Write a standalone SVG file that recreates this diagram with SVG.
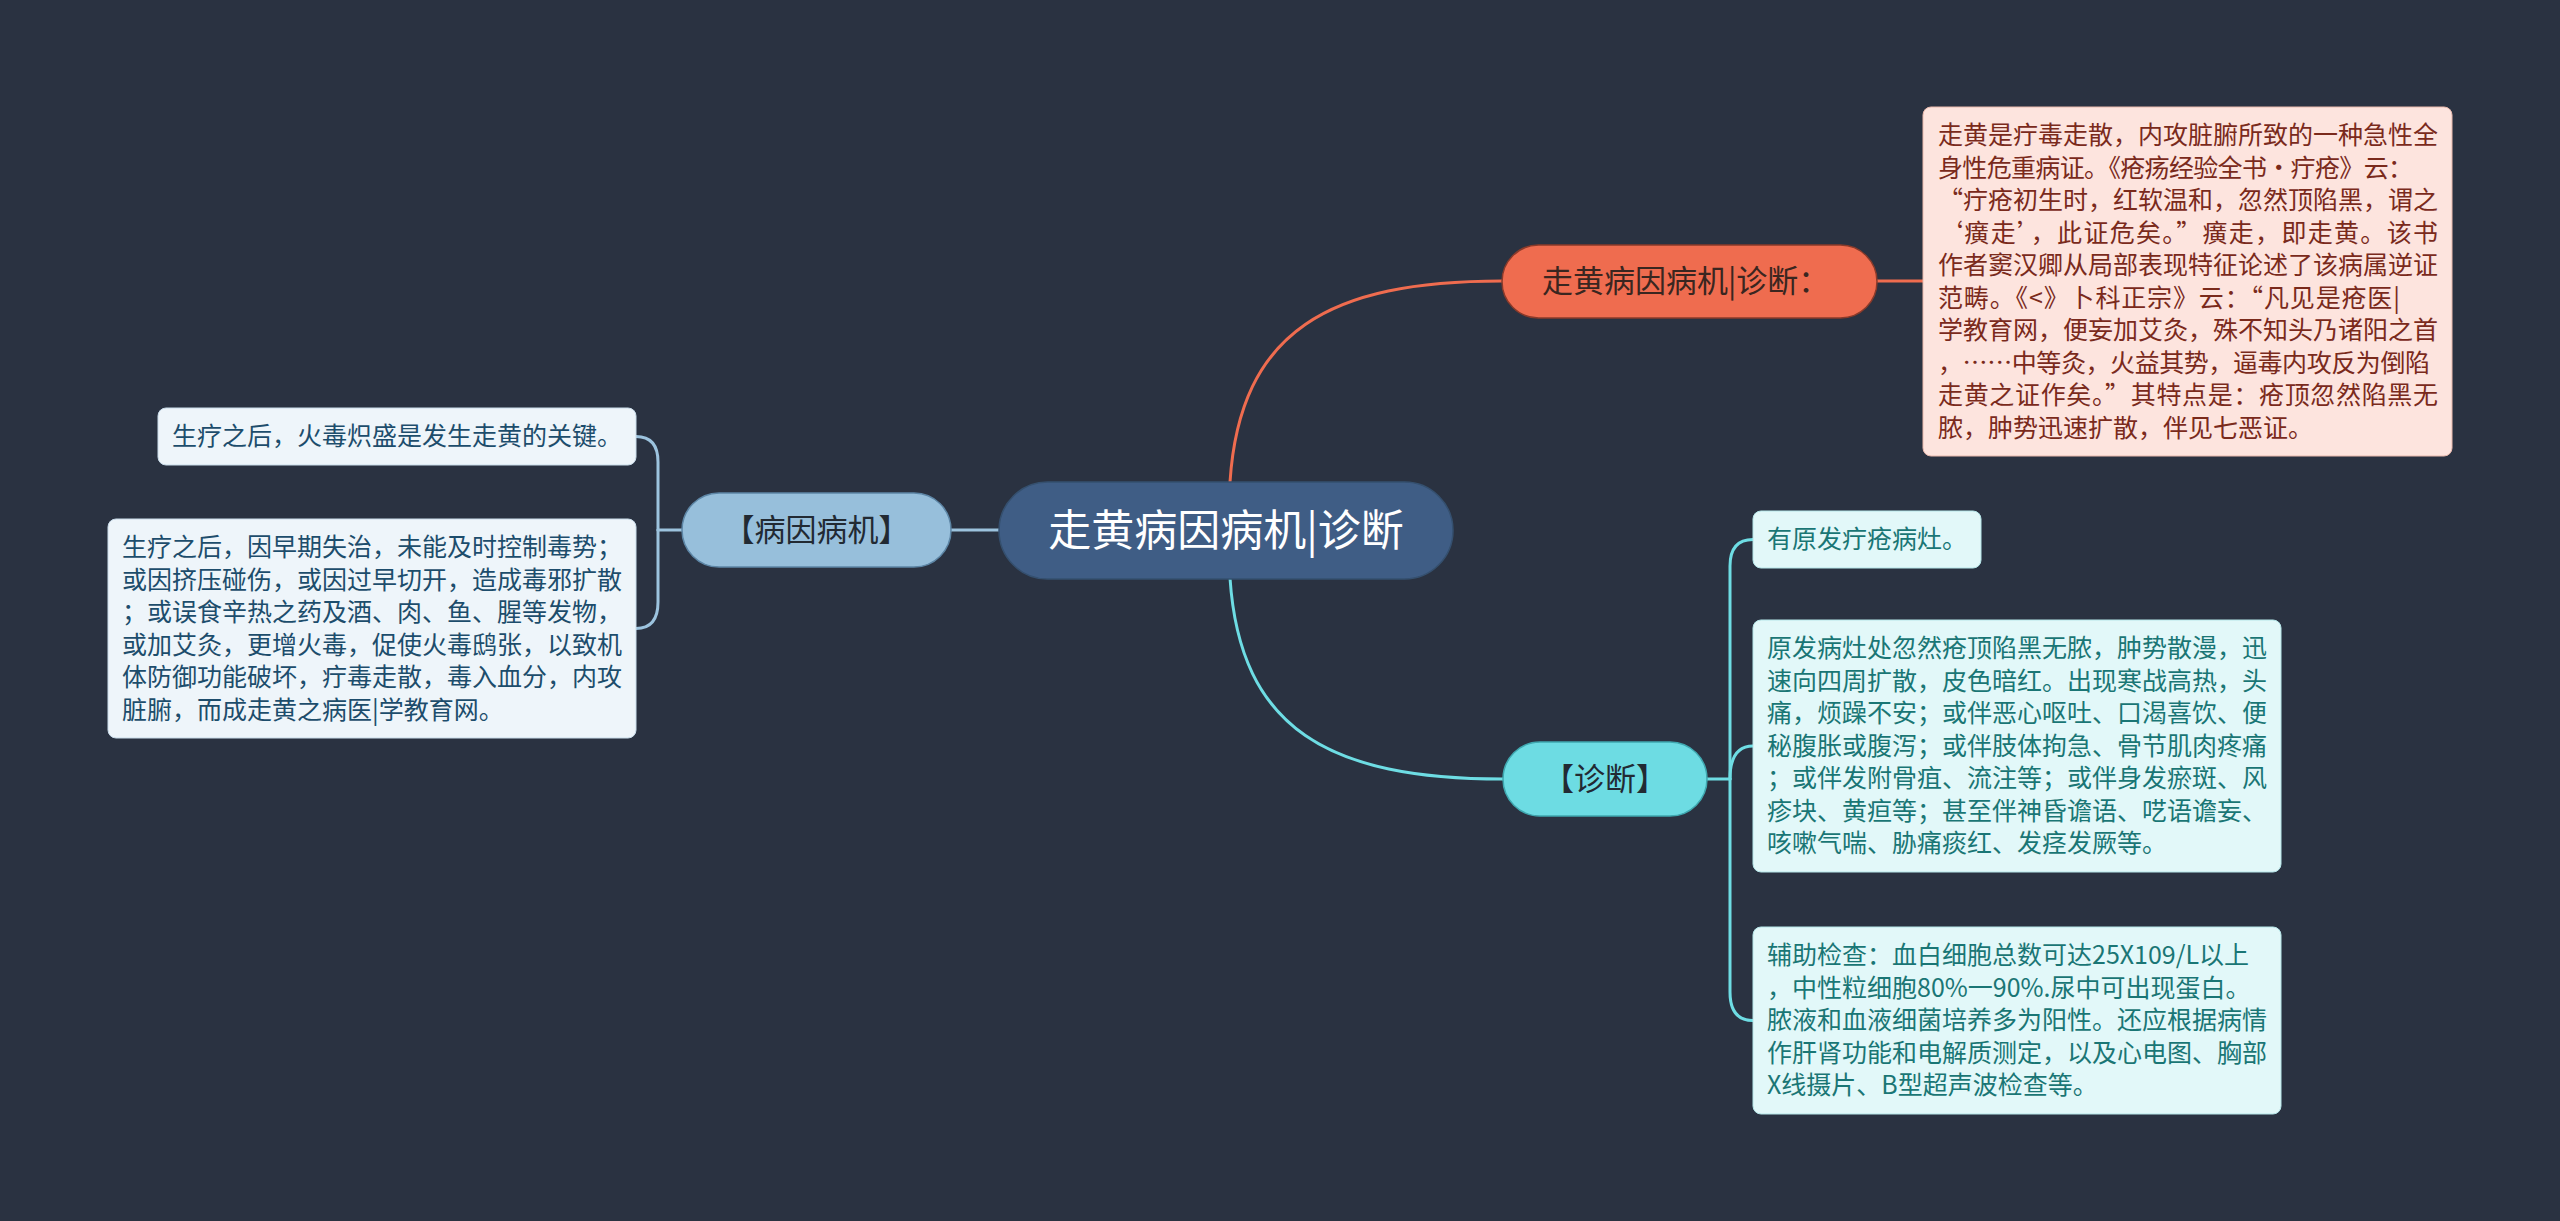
<svg xmlns="http://www.w3.org/2000/svg" width="2560" height="1221" viewBox="0 0 2560 1221">
<style>
.t{font-family:"Noto Sans CJK SC","Noto Sans",sans-serif}
.d{font-size:25px}
.br{font-size:31px}
.lk{fill:none;stroke-width:3;stroke-linecap:round}
.pinkt{fill:#7a2a1c}
.bluet{fill:#1d4d6c}
.tealt{fill:#1a7675}
</style>
<rect width="2560" height="1221" fill="#2a3241"/>
<g id="connectors">
<path class="lk" stroke="#ef6c4f" d="M1230,482 C1240,330 1330,281 1502,281"/>
<path class="lk" stroke="#ef6c4f" d="M1877,281 L1923,281"/>
<path class="lk" stroke="#9cc3de" d="M999,530 L951,530"/>
<path class="lk" stroke="#9cc3de" d="M682,530 L658,530"/>
<path class="lk" stroke="#9cc3de" d="M658,530 L658,462 Q658,436.5 636,436.5"/>
<path class="lk" stroke="#9cc3de" d="M658,530 L658,602 Q658,628.5 636,628.5"/>
<path class="lk" stroke="#6edde4" d="M1230,578 C1240,730 1330,779 1503,779"/>
<path class="lk" stroke="#6edde4" d="M1707,779 L1730,779"/>
<path class="lk" stroke="#6edde4" d="M1730,779 L1730,566 Q1730,539.5 1753,539.5"/>
<path class="lk" stroke="#6edde4" d="M1730,779 Q1730,746 1753,746"/>
<path class="lk" stroke="#6edde4" d="M1730,779 L1730,992 Q1730,1020.5 1753,1020.5"/>
</g>
<g id="root">
<rect x="999" y="482" width="454" height="97" rx="48.5" fill="#3f5d85" stroke="#35506f" stroke-width="1.5"/>
<text class="t" x="1226" y="546" font-size="43" fill="#ffffff" text-anchor="middle">走黄病因病机|诊断</text>
</g>
<g id="b1">
<rect x="1502" y="245" width="375" height="73" rx="36.5" fill="#ef6c4f" stroke="#8a3a2a" stroke-width="1.5"/>
<text class="t br" x="1542" y="292" fill="#3a2620">走黄病因病机|诊断：</text>
</g>
<g id="b1c1">
<rect x="1923" y="107" width="529" height="349" rx="8" fill="#fde4de" stroke="#e9b9ad" stroke-width="1"/>
<text class="t d pinkt">
<tspan x="1938" y="144" textLength="500" lengthAdjust="spacing">走黄是疔毒走散，内攻脏腑所致的一种急性全</tspan>
<tspan x="1938" y="176.5" textLength="475" lengthAdjust="spacing">身性危重病证。《疮疡经验全书·疔疮》云：</tspan>
<tspan x="1938" y="209" textLength="500" lengthAdjust="spacing">“疔疮初生时，红软温和，忽然顶陷黑，谓之</tspan>
<tspan x="1938" y="241.5" textLength="500" lengthAdjust="spacing">‘癀走’，此证危矣。”癀走，即走黄。该书</tspan>
<tspan x="1938" y="274" textLength="500" lengthAdjust="spacing">作者窦汉卿从局部表现特征论述了该病属逆证</tspan>
<tspan x="1938" y="306.5" textLength="462" lengthAdjust="spacing">范畴。《&lt;》卜科正宗》云：“凡见是疮医|</tspan>
<tspan x="1938" y="339" textLength="500" lengthAdjust="spacing">学教育网，便妄加艾灸，殊不知头乃诸阳之首</tspan>
<tspan x="1938" y="371.5" textLength="492" lengthAdjust="spacing">，……中等灸，火益其势，逼毒内攻反为倒陷</tspan>
<tspan x="1938" y="404" textLength="500" lengthAdjust="spacing">走黄之证作矣。”其特点是：疮顶忽然陷黑无</tspan>
<tspan x="1938" y="436.5">脓，肿势迅速扩散，伴见七恶证。</tspan>
</text>
</g>
<g id="b2">
<rect x="682" y="493" width="269" height="74" rx="37" fill="#97bfdb" stroke="#5d86a6" stroke-width="1.5"/>
<text class="t br" x="816.5" y="541" fill="#222a33" text-anchor="middle">【病因病机】</text>
</g>
<g id="b2c1">
<rect x="158" y="408" width="478" height="57" rx="8" fill="#eef5fa" stroke="#c9dcea" stroke-width="1"/>
<text class="t d bluet" x="172" y="445">生疗之后，火毒炽盛是发生走黄的关键。</text>
</g>
<g id="b2c2">
<rect x="108" y="519" width="528" height="219" rx="8" fill="#eef5fa" stroke="#c9dcea" stroke-width="1"/>
<text class="t d bluet">
<tspan x="122" y="556">生疗之后，因早期失治，未能及时控制毒势；</tspan>
<tspan x="122" y="588.5">或因挤压碰伤，或因过早切开，造成毒邪扩散</tspan>
<tspan x="122" y="621">；或误食辛热之药及酒、肉、鱼、腥等发物，</tspan>
<tspan x="122" y="653.5">或加艾灸，更增火毒，促使火毒鸱张，以致机</tspan>
<tspan x="122" y="686">体防御功能破坏，疔毒走散，毒入血分，内攻</tspan>
<tspan x="122" y="718.5">脏腑，而成走黄之病医|学教育网。</tspan>
</text>
</g>
<g id="b3">
<rect x="1503" y="742" width="204" height="74" rx="37" fill="#6ddce3" stroke="#3fa8b0" stroke-width="1.5"/>
<text class="t br" x="1605" y="790" fill="#222a33" text-anchor="middle">【诊断】</text>
</g>
<g id="b3c1">
<rect x="1753" y="511" width="228" height="57" rx="8" fill="#e2f8f9" stroke="#b5e6e9" stroke-width="1"/>
<text class="t d tealt" x="1767" y="548">有原发疔疮病灶。</text>
</g>
<g id="b3c2">
<rect x="1753" y="620" width="528" height="252" rx="8" fill="#e2f8f9" stroke="#b5e6e9" stroke-width="1"/>
<text class="t d tealt">
<tspan x="1767" y="657">原发病灶处忽然疮顶陷黑无脓，肿势散漫，迅</tspan>
<tspan x="1767" y="689.5">速向四周扩散，皮色暗红。出现寒战高热，头</tspan>
<tspan x="1767" y="722">痛，烦躁不安；或伴恶心呕吐、口渴喜饮、便</tspan>
<tspan x="1767" y="754.5">秘腹胀或腹泻；或伴肢体拘急、骨节肌肉疼痛</tspan>
<tspan x="1767" y="787">；或伴发附骨疽、流注等；或伴身发瘀斑、风</tspan>
<tspan x="1767" y="819.5">疹块、黄疸等；甚至伴神昏谵语、呓语谵妄、</tspan>
<tspan x="1767" y="852">咳嗽气喘、胁痛痰红、发痉发厥等。</tspan>
</text>
</g>
<g id="b3c3">
<rect x="1753" y="927" width="528" height="187" rx="8" fill="#e2f8f9" stroke="#b5e6e9" stroke-width="1"/>
<text class="t d tealt">
<tspan x="1767" y="964">辅助检查：血白细胞总数可达25X109/L以上</tspan>
<tspan x="1767" y="996.5">，中性粒细胞80%一90%.尿中可出现蛋白。</tspan>
<tspan x="1767" y="1029">脓液和血液细菌培养多为阳性。还应根据病情</tspan>
<tspan x="1767" y="1061.5">作肝肾功能和电解质测定，以及心电图、胸部</tspan>
<tspan x="1767" y="1094">X线摄片、B型超声波检查等。</tspan>
</text>
</g>
</svg>
